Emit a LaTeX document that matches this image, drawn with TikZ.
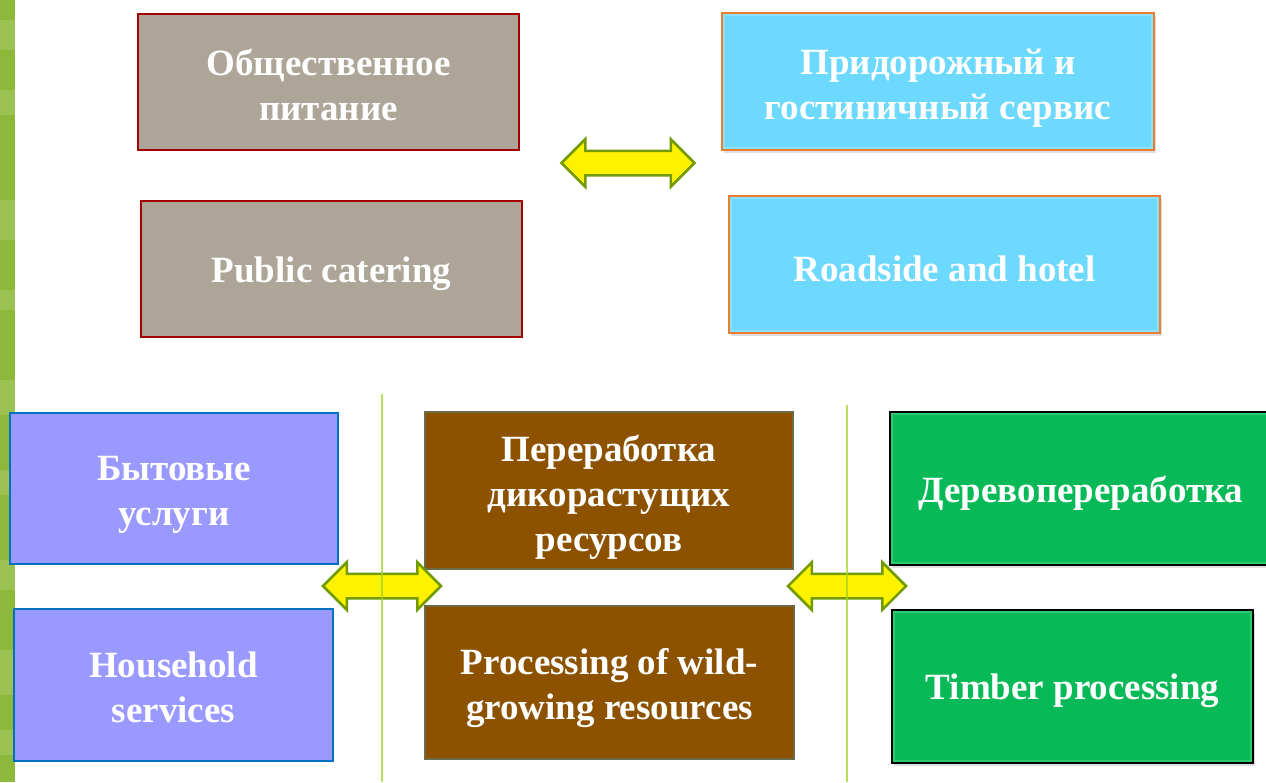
\documentclass[tikz,border=0pt]{standalone}
\usepackage{fontspec}
\setmainfont{Liberation Serif}
\usetikzlibrary{shapes.arrows,shadows}
\newcommand{\firststrut}[1]{\rule{0pt}{#1pt}}
\definecolor{stripgreen}{RGB}{140,185,60}
\definecolor{striplight}{RGB}{175,205,110}
\definecolor{grayfill}{RGB}{173,165,151}
\definecolor{redborder}{RGB}{165,0,0}
\definecolor{cyanfill}{RGB}{109,217,254}
\definecolor{orangeborder}{RGB}{237,125,49}
\definecolor{violetfill}{RGB}{153,153,255}
\definecolor{blueborder}{RGB}{0,112,192}
\definecolor{brownfill}{RGB}{140,82,0}
\definecolor{oliveborder}{RGB}{107,107,71}
\definecolor{greenfill}{RGB}{7,186,87}
\definecolor{greenbevel}{RGB}{70,215,130}
\definecolor{cyanbevel}{RGB}{160,232,255}
\definecolor{arrowborder}{RGB}{115,155,0}
\definecolor{vlinecolor}{RGB}{165,210,35}
\begin{document}
\begin{tikzpicture}[x=1pt,y=-1pt,
  box/.style={draw, align=center, text=white, inner sep=0pt,
    font=\bfseries\fontsize{37}{45}\selectfont},
  graybox/.style={box, fill=grayfill, draw=redborder, line width=2.5pt},
  cyanbox/.style={box, fill=cyanfill, draw=orangeborder, line width=2pt,
    drop shadow={shadow xshift=2pt, shadow yshift=-3pt, opacity=0.25}},
  violetbox/.style={box, fill=violetfill, draw=blueborder, line width=1.8pt},
  brownbox/.style={box, fill=brownfill, draw=oliveborder, line width=2.5pt},
  greenbox/.style={box, fill=greenfill, draw=black, line width=2.5pt,
    drop shadow={shadow xshift=2pt, shadow yshift=-3pt, opacity=0.25}},
  dblarrow/.style={double arrow, fill=yellow, draw=arrowborder, line width=2.5pt,
    inner xsep=0pt, inner ysep=11pt, double arrow head extend=11.5pt,
    double arrow tip angle=90},
  sepline/.style={draw=vlinecolor, line width=1.8pt, opacity=0.75},
  bevelg/.style={draw=greenbevel, line width=2pt, opacity=0.6},
  bevelc/.style={draw=cyanbevel, line width=2pt, opacity=0.6}
]
\useasboundingbox (0,0) rectangle (1266,782);
\fill[white] (0,0) rectangle (1266,782);
\fill[stripgreen] (0,0) rectangle (15,782);
\foreach \yy/\hh in {20/30, 90/25, 200/40, 290/20, 380/35, 470/25, 560/30, 650/45, 730/25}{
  \fill[striplight, opacity=0.45] (0,\yy) rectangle (15,\yy+\hh);
}

% top row
\node[graybox, minimum width=381pt, minimum height=136pt] (n1) at (328.5,82) {\firststrut{32}Общественное\\питание};
\node[graybox, minimum width=381pt, minimum height=136pt] (n2) at (331.5,269) {\firststrut{35}Public catering};
\node[cyanbox, minimum width=432pt, minimum height=137pt] (n3) at (938,81.5) {\firststrut{38.5}Придорожный и\\гостиничный сервис};
\node[cyanbox, minimum width=431pt, minimum height=137pt] (n4) at (944.5,264.5) {\firststrut{34}Roadside and hotel};
\draw[bevelc] ([shift={(3,3)}]n3.north west) rectangle ([shift={(-3,-3)}]n3.south east);
\draw[bevelc] ([shift={(3,3)}]n4.north west) rectangle ([shift={(-3,-3)}]n4.south east);

% bottom row
\node[violetbox, minimum width=328pt, minimum height=151pt] (n5) at (174,488.5) {\firststrut{36.5}Бытовые\\услуги};
\node[violetbox, minimum width=319pt, minimum height=152pt] (n6) at (173.5,685) {\firststrut{30.5}Household\\services};
\node[brownbox, minimum width=368pt, minimum height=157pt] (n7) at (609,490.5) {\firststrut{39}Переработка\\дикорастущих\\ресурсов};
\node[brownbox, minimum width=369pt, minimum height=153pt] (n8) at (609.5,682.5) {\firststrut{37.5}Processing of wild-\\growing resources};
\node[greenbox, minimum width=382pt, minimum height=153pt] (n9) at (1081,488.5) {\firststrut{35}Деревопереработка};
\node[greenbox, minimum width=361pt, minimum height=153pt] (n10) at (1072.5,686.5) {\firststrut{35}Timber processing};
\draw[bevelg] ([shift={(3,3)}]n9.north west) rectangle ([shift={(-3,-3)}]n9.south east);
\draw[bevelg] ([shift={(3,3)}]n10.north west) rectangle ([shift={(-3,-3)}]n10.south east);

% double arrows
\node[dblarrow, minimum height=133pt] (a1) at (628,163) {};
\node[dblarrow, minimum height=118pt] (a2) at (382,586) {};
\node[dblarrow, minimum height=118pt] (a3) at (847,586) {};

% separator lines
\coordinate (s1t) at (382,394);
\coordinate (s1b) at (382,782);
\coordinate (s2t) at (847,405);
\coordinate (s2b) at (847,782);
\draw[sepline] (s1t) -- (s1b);
\draw[sepline] (s2t) -- (s2b);
\end{tikzpicture}
\end{document}
